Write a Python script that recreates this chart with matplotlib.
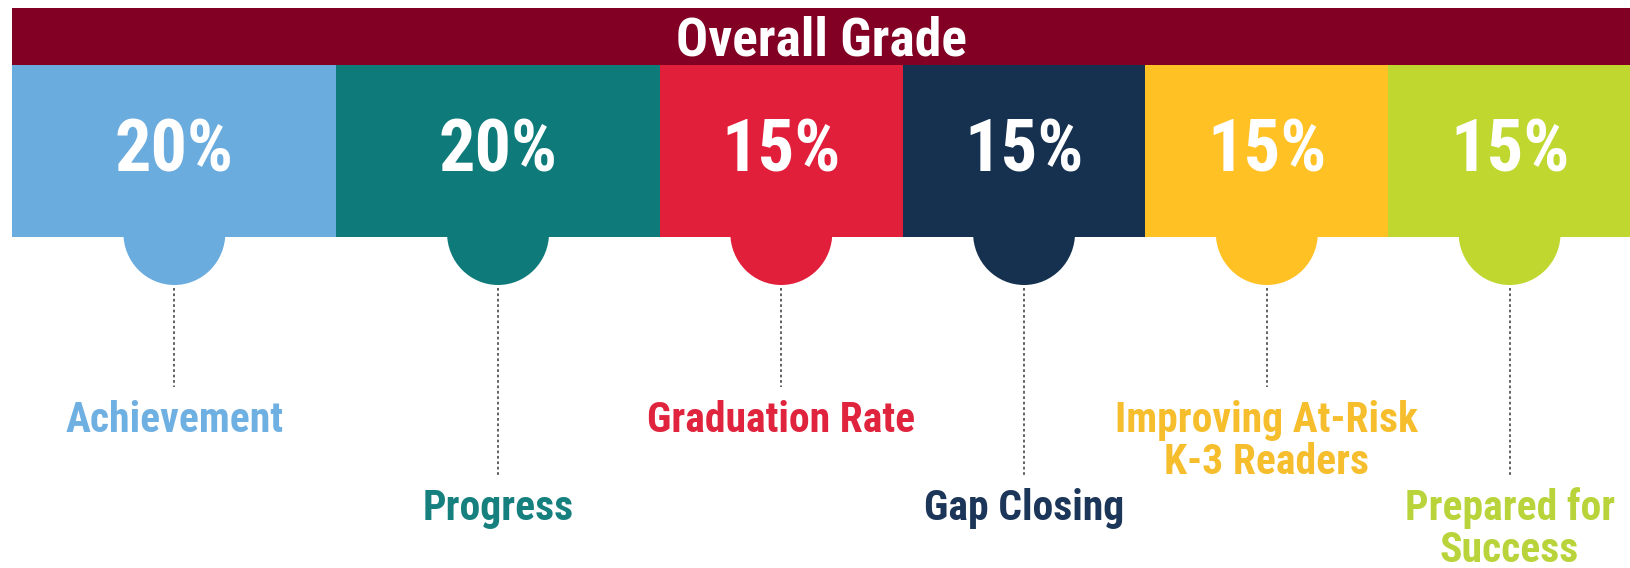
import matplotlib
matplotlib.use('Agg')
import numpy as np
import matplotlib.pyplot as plt
from matplotlib.patches import Ellipse

# chart data
title = 'Overall Grade'
categories = ['Achievement', 'Progress', 'Graduation Rate', 'Gap Closing',
              'Improving At-Risk\nK-3 Readers', 'Prepared for\nSuccess']
weights = [20, 20, 15, 15, 15, 15]
label_row = [0, 1, 0, 1, 0, 1]
bar_colors = ['#6aacde', '#0f7a7a', '#e21f3a', '#15314f', '#ffc124', '#c0d72f']
text_colors = ['#6fb0e2', '#16807f', '#e0243d', '#1b3658', '#f6be2c', '#b9d43a']
title_color = '#820024'

FONT = ['Roboto Condensed', 'IBM Plex Sans Condensed', 'Fira Sans Condensed',
        'Barlow Condensed', 'DejaVu Sans']

W, H = 1631, 568
left_px = 12.5
px_per_pct = (W - left_px) / 100.

fig = plt.figure(figsize=(W / 100., H / 100.), dpi=100)
ax = fig.add_axes([0, 0, 1, 1])
ax.set_xlim(-left_px / px_per_pct, 100)
ax.set_ylim(H, 0)
ax.axis('off')

# title band
ax.barh(36.25, 100, left=0, height=56.5, color=title_color, linewidth=0)
ax.text(50, 55, title, ha='center', va='baseline', color='white',
        fontsize=38.5, fontweight='bold', family=FONT)

# weight segments
starts = np.concatenate([[0], np.cumsum(weights)[:-1]])
centers = starts + np.array(weights) / 2.
band_top, band_bot = 64.5, 237
ax.barh((band_top + band_bot) / 2., weights, left=starts,
        height=band_bot - band_top, color=bar_colors, linewidth=0)

tab_w = 102 / px_per_pct
row_base = [432, 520]
line_gap = 42

for cat, w, x, row, bc, tc in zip(categories, weights, centers, label_row,
                                   bar_colors, text_colors):
    ax.add_patch(Ellipse((x, band_bot - 4), tab_w, 104, facecolor=bc,
                         edgecolor='none', zorder=2))
    ax.text(x, 171, '{}%'.format(w), ha='center', va='baseline',
            color='white', fontsize=52, fontweight='bold', family=FONT,
            zorder=3)

    base = row_base[row]
    ax.plot([x, x], [288, base - 45], color='#555555', lw=1.3,
            ls=(0, (1.5, 1.5)), zorder=1)
    for i, line in enumerate(cat.split('\n')):
        ax.text(x, base + i * line_gap, line, ha='center', va='baseline',
                color=tc, fontsize=30, fontweight='bold', family=FONT)

fig.savefig('out.png', dpi=100)
